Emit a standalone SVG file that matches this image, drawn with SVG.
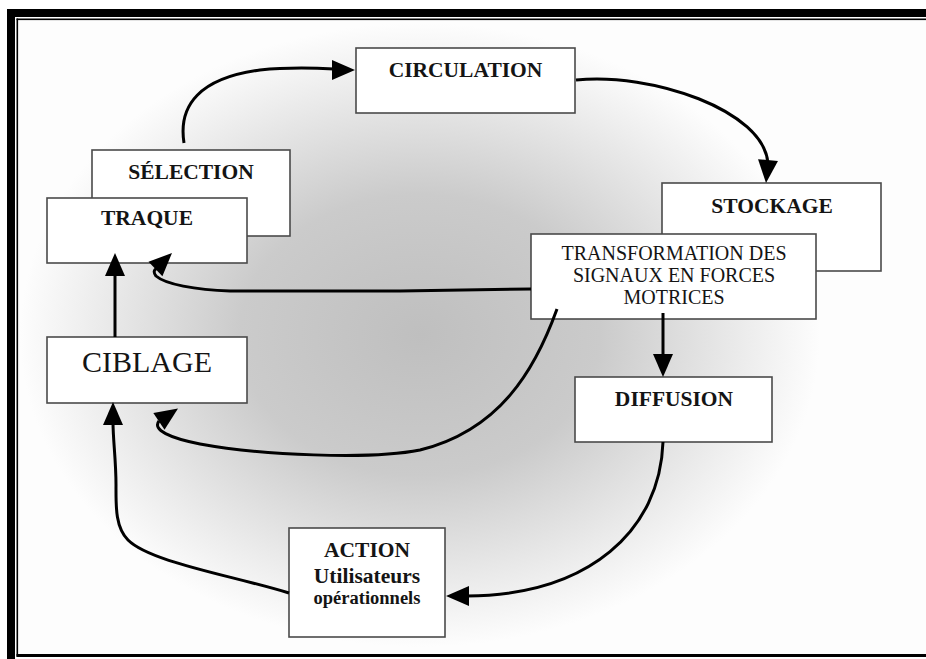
<svg xmlns="http://www.w3.org/2000/svg" xmlns:xlink="http://www.w3.org/1999/xlink" width="926" height="659" viewBox="0 0 926 659">
  <defs>
    <radialGradient id="glow" gradientUnits="userSpaceOnUse" cx="420" cy="335" r="400" gradientTransform="translate(420 335) scale(1 0.78) translate(-420 -335)">
      <stop offset="0" stop-color="#bfbfbf"/>
      <stop offset="0.45" stop-color="#cbcbcb"/>
      <stop offset="0.8" stop-color="#ebebeb"/>
      <stop offset="1" stop-color="#fdfdfd"/>
    </radialGradient>
    <path id="ah" d="M0,0 L-23,-10 L-23,10 Z" fill="#000"/>
    <style>
      .box { fill: #ffffff; stroke: #4a4a4a; stroke-width: 1.6; }
      .lbl { font-family: "Liberation Serif", "Times New Roman", serif; font-weight: bold; font-size: 21.5px; fill: #141414; text-anchor: middle; }
      .big { font-weight: normal; font-size: 30px; }
      .mid { font-weight: normal; font-size: 20px; }
      .small { font-size: 18.5px; }
      .link { fill: none; stroke: #000; stroke-width: 3; stroke-linecap: butt; stroke-linejoin: round; }
    </style>
  </defs>

  <!-- page and frame -->
  <rect x="0" y="0" width="926" height="659" fill="#ffffff"/>
  <rect x="18" y="20" width="908" height="634" fill="url(#glow)"/>
  <rect x="7" y="9" width="919" height="8" fill="#000"/>
  <rect x="7" y="9" width="8" height="650" fill="#000"/>
  <rect x="16.5" y="18.5" width="909.5" height="1.6" fill="#000"/>
  <rect x="16.5" y="18.5" width="1.6" height="638" fill="#000"/>
  <rect x="16.5" y="654" width="909.5" height="3" fill="#000"/>

  <!-- nodes -->
  <g id="circulation">
    <rect class="box" x="356" y="48" width="219" height="65"/>
    <text class="lbl" x="465.5" y="77">CIRCULATION</text>
  </g>
  <g id="selection">
    <rect class="box" x="92" y="150" width="198" height="86"/>
    <text class="lbl" x="191" y="179">SÉLECTION</text>
  </g>
  <g id="traque">
    <rect class="box" x="47" y="198" width="200" height="65"/>
    <text class="lbl" x="147" y="225">TRAQUE</text>
  </g>
  <g id="ciblage">
    <rect class="box" x="47" y="337" width="200" height="66"/>
    <text class="lbl big" x="147" y="372">CIBLAGE</text>
  </g>
  <g id="stockage">
    <rect class="box" x="662" y="183" width="219" height="88"/>
    <text class="lbl" x="772" y="213">STOCKAGE</text>
  </g>
  <g id="transformation">
    <rect class="box" x="531" y="234" width="285" height="85"/>
    <text class="lbl mid" x="674" y="260">TRANSFORMATION DES</text>
    <text class="lbl mid" x="674" y="282">SIGNAUX EN FORCES</text>
    <text class="lbl mid" x="674" y="304">MOTRICES</text>
  </g>
  <g id="diffusion">
    <rect class="box" x="575" y="377" width="197" height="65"/>
    <text class="lbl" x="674" y="405.5">DIFFUSION</text>
  </g>
  <g id="action">
    <rect class="box" x="289" y="528" width="156" height="109"/>
    <text class="lbl" x="367" y="557">ACTION</text>
    <text class="lbl" x="367" y="583">Utilisateurs</text>
    <text class="lbl small" x="367" y="604">opérationnels</text>
  </g>

  <!-- connectors -->
  <g id="connectors">
    <path class="link" d="M184,143 C178,105 200,78 260,70 C290,67 315,68 334,69"/>
    <use xlink:href="#ah" href="#ah" transform="translate(355 70)"/>

    <path class="link" d="M576,80 C650,72 765,110 768,164"/>
    <use xlink:href="#ah" href="#ah" transform="translate(766 183) rotate(95)"/>

    <path class="link" d="M531,289 L400,291 L230,291 C195,290 165,284 156,276 C153,272 154,270 157,268"/>
    <use xlink:href="#ah" href="#ah" transform="translate(172 253) rotate(-44)"/>

    <path class="link" d="M557,309 C535,370 500,430 420,450 C370,460 260,455 200,444 C170,438 152,430 159,421"/>
    <use xlink:href="#ah" href="#ah" transform="translate(178 408.5) rotate(-34)"/>

    <path class="link" d="M663,313 L663,356"/>
    <use xlink:href="#ah" href="#ah" transform="translate(663 377) rotate(90)"/>

    <path class="link" d="M663,442 C660,530 590,595 467,596"/>
    <use xlink:href="#ah" href="#ah" transform="translate(446 596) rotate(180)"/>

    <path class="link" d="M115,337 L115,274"/>
    <use xlink:href="#ah" href="#ah" transform="translate(115 253) rotate(-90)"/>

    <path class="link" d="M289,593 C230,575 150,562 128,540 C115,527 116,505 116,485 C116,460 113,440 113,422"/>
    <use xlink:href="#ah" href="#ah" transform="translate(113 402) rotate(-90)"/>
  </g>
</svg>
